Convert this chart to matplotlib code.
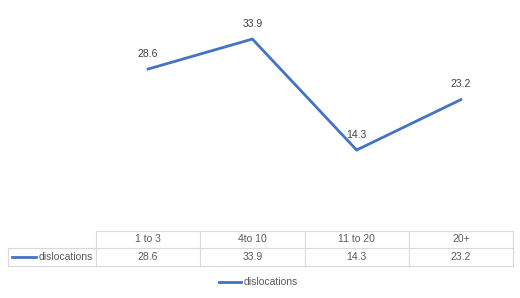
import numpy as np
import matplotlib
matplotlib.use("Agg")
import matplotlib.pyplot as plt
from matplotlib.lines import Line2D

categories = ['1 to 3', '4to 10', '11 to 20', '20+']
values = [28.6, 33.9, 14.3, 23.2]
series_name = 'dislocations'

blue = '#4472C4'
grey_txt = '#595959'
grid_col = '#D9D9D9'

plt.rcParams['font.family'] = ['Liberation Sans', 'DejaVu Sans']

W, H = 520, 298
fig = plt.figure(figsize=(W / 100, H / 100), dpi=100)

# plot area (pixel coords of the reference)
left, right, top, bottom = 96, 513, 4.5, 231
ax = fig.add_axes([left / W, 1 - bottom / H, (right - left) / W, (bottom - top) / H])
x = np.arange(len(categories))
ax.plot(x, values, color=blue, linewidth=2.0, solid_joinstyle='miter')
for xi, v in zip(x, values):
    ax.annotate(f'{v}', (xi, v), xytext=(0, 7.5), textcoords='offset points',
                ha='center', va='bottom', fontsize=7.5, color='#404040')
ax.set_xlim(-0.5, len(categories) - 0.5)
ax.set_ylim(0, 40)
ax.axis('off')

# data table under the plot
def fx(px):
    return px / W

def fy(py):
    return 1 - py / H

row_top, row_mid, row_bot = 231, 248, 265.5
label_left = 8
col_edges = np.linspace(left, right, len(categories) + 1)

lines = []
lines.append(((left, right), (row_top, row_top)))
lines.append(((label_left, right), (row_mid, row_mid)))
lines.append(((label_left, right), (row_bot, row_bot)))
lines.append(((label_left, label_left), (row_mid, row_bot)))
for ce in col_edges:
    lines.append(((ce, ce), (row_top, row_bot)))
for xs, ys in lines:
    fig.add_artist(Line2D([fx(v) for v in xs], [fy(v) for v in ys],
                          color=grid_col, linewidth=0.8))

for i, (cat, v) in enumerate(zip(categories, values)):
    cx = (col_edges[i] + col_edges[i + 1]) / 2
    fig.text(fx(cx), fy((row_top + row_mid) / 2), cat, ha='center', va='center',
             fontsize=7.5, color=grey_txt)
    fig.text(fx(cx), fy((row_mid + row_bot) / 2), f'{v}', ha='center', va='center',
             fontsize=7.5, color=grey_txt)

# legend key inside the table
ymid = (row_mid + row_bot) / 2
fig.add_artist(Line2D([fx(12), fx(36)], [fy(ymid), fy(ymid)], color=blue, linewidth=2.0))
fig.text(fx(38.5), fy(ymid), series_name, ha='left', va='center', fontsize=7.5, color=grey_txt)

# legend below
fig.add_artist(Line2D([fx(219), fx(241)], [fy(282), fy(282)], color=blue, linewidth=2.0))
fig.text(fx(244), fy(282), series_name, ha='left', va='center', fontsize=7.5, color=grey_txt)

fig.savefig('out.png', dpi=100)
